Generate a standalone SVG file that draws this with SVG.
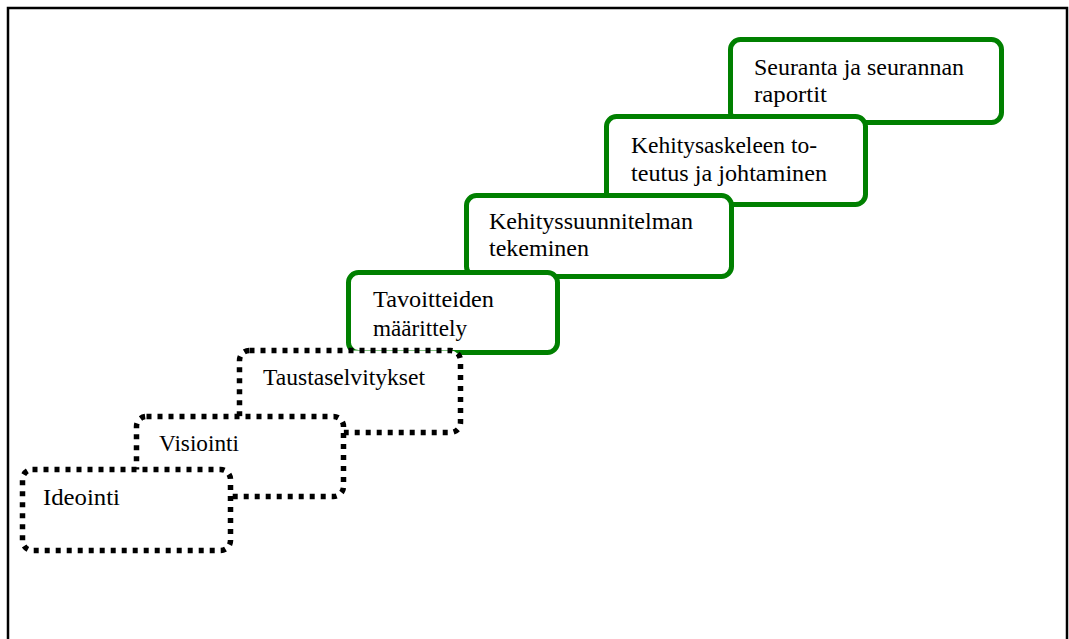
<svg xmlns="http://www.w3.org/2000/svg" width="1069" height="639" viewBox="0 0 1069 639">
<style>
.g{fill:#fff;stroke:#008000;stroke-width:5}
.d{fill:#fff;stroke:#000;stroke-width:5.5;stroke-dasharray:5 6}
text{font-family:"Liberation Serif","Times New Roman",serif;font-size:23px;fill:#000}
</style>
<rect width="1069" height="639" fill="#fff"/>
<path d="M8,640V8H1067V640" fill="none" stroke="#000" stroke-width="2.5"/>
<g id="n7"><rect class="g" x="730.5" y="39.5" width="271" height="83" rx="10"/>
<text x="754" y="75" textLength="210" lengthAdjust="spacingAndGlyphs">Seuranta ja seurannan</text>
<text x="754" y="102" textLength="73" lengthAdjust="spacingAndGlyphs">raportit</text></g>
<g id="n6"><rect class="g" x="606.5" y="116.5" width="259" height="88" rx="10"/>
<text x="631" y="153" textLength="186" lengthAdjust="spacingAndGlyphs">Kehitysaskeleen to-</text>
<text x="631" y="181" textLength="196" lengthAdjust="spacingAndGlyphs">teutus ja johtaminen</text></g>
<g id="n5"><rect class="g" x="466.5" y="195.5" width="265" height="81" rx="10"/>
<text x="489" y="229" textLength="204" lengthAdjust="spacingAndGlyphs">Kehityssuunnitelman</text>
<text x="489" y="256" textLength="100" lengthAdjust="spacingAndGlyphs">tekeminen</text></g>
<g id="n4"><rect class="g" x="348.5" y="272.5" width="209" height="80" rx="10"/>
<text x="373" y="307" textLength="121" lengthAdjust="spacingAndGlyphs">Tavoitteiden</text>
<text x="373" y="336" textLength="94" lengthAdjust="spacingAndGlyphs">määrittely</text></g>
<g id="n3"><rect class="d" x="239.5" y="350.5" width="221" height="82" rx="10"/>
<text x="263" y="385" textLength="162" lengthAdjust="spacingAndGlyphs">Taustaselvitykset</text></g>
<g id="n2"><rect class="d" x="136.5" y="416.5" width="207" height="80" rx="10"/>
<text x="159" y="451" textLength="80" lengthAdjust="spacingAndGlyphs">Visiointi</text></g>
<g id="n1"><rect class="d" x="22.5" y="469.5" width="208" height="81" rx="10"/>
<text x="43" y="505" textLength="77" lengthAdjust="spacingAndGlyphs">Ideointi</text></g>
<g id="connectors"></g>
</svg>
